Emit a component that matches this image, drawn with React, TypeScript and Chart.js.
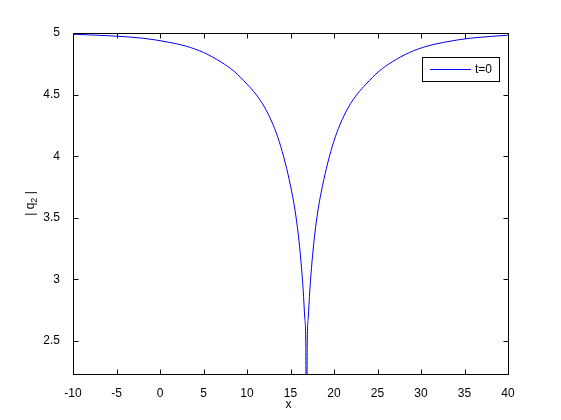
import { useEffect, useRef } from 'react';
import { Chart, registerables } from 'chart.js';

Chart.register(...registerables);

// Data
const xValues = [
  -10, -6, -2, 1, 3, 5, 7, 8.5, 10, 11, 12, 13, 13.7, 14.4, 15, 15.5, 15.9, 16.2, 16.45,
  16.65, 16.76, 16.84, 16.92, 17.03, 17.23, 17.48, 17.78, 18.18, 18.68, 19.28, 19.98, 20.68,
  21.68, 22.68, 23.68, 25.18, 26.68, 28.68, 30.68, 32.68, 35.68, 40,
];
const q2Values = [
  4.99, 4.978, 4.958, 4.925, 4.893, 4.842, 4.765, 4.69, 4.585, 4.505, 4.4, 4.255, 4.12,
  3.945, 3.76, 3.57, 3.36, 3.15, 2.92, 2.68, 2.45, 1.0, 2.45, 2.68, 2.92, 3.15, 3.36, 3.57,
  3.76, 3.945, 4.12, 4.255, 4.4, 4.505, 4.585, 4.69, 4.765, 4.842, 4.893, 4.925, 4.958,
  4.982,
];
const xTicks = [-10, -5, 0, 5, 10, 15, 20, 25, 30, 35, 40];
const yTicks = [2.5, 3, 3.5, 4, 4.5, 5];
const xMin = -10;
const xMax = 40;
const yMin = 2.232;
const yMax = 5;
const seriesLabel = 't=0';
const xTitle = 'x';
const yTitleMain = '| q';
const yTitleSub = '2';
const yTitleEnd = ' |';

const FONT = "'Liberation Sans', Arial, sans-serif";
const LINE_COLOR = '#0000ee';

const framePlugin = {
  id: 'matlabFrame',
  afterDraw(chart: any) {
    const { ctx, chartArea } = chart;
    const xs = chart.scales.x;
    const ys = chart.scales.y;
    const L = Math.round(chartArea.left) + 0.5;
    const R = Math.round(chartArea.right) + 0.5;
    const T = Math.round(chartArea.top) + 0.5;
    const B = Math.round(chartArea.bottom) + 0.5;
    ctx.save();
    ctx.strokeStyle = '#000';
    ctx.lineWidth = 1;
    ctx.strokeRect(L, T, R - L, B - T);
    const tl = 5;
    ctx.beginPath();
    for (const v of xTicks) {
      const px = Math.round(xs.getPixelForValue(v)) + 0.5;
      ctx.moveTo(px, B);
      ctx.lineTo(px, B - tl);
      ctx.moveTo(px, T);
      ctx.lineTo(px, T + tl);
    }
    for (const v of yTicks) {
      const py = Math.round(ys.getPixelForValue(v)) + 0.5;
      ctx.moveTo(L, py);
      ctx.lineTo(L + tl, py);
      ctx.moveTo(R, py);
      ctx.lineTo(R - tl, py);
    }
    ctx.stroke();

    // Legend box
    const lx0 = 422.5, ly0 = 57.5, lx1 = 499.5, ly1 = 81.5;
    ctx.fillStyle = '#fff';
    ctx.fillRect(lx0, ly0, lx1 - lx0, ly1 - ly0);
    ctx.strokeStyle = '#000';
    ctx.strokeRect(lx0, ly0, lx1 - lx0, ly1 - ly0);
    ctx.strokeStyle = LINE_COLOR;
    ctx.beginPath();
    ctx.moveTo(430, 69.5);
    ctx.lineTo(471, 69.5);
    ctx.stroke();
    ctx.fillStyle = '#000';
    ctx.font = `12px ${FONT}`;
    ctx.textAlign = 'left';
    ctx.textBaseline = 'middle';
    ctx.fillText(seriesLabel, 475, 70);

    // X title
    ctx.textAlign = 'center';
    ctx.textBaseline = 'alphabetic';
    ctx.fillText(xTitle, (chartArea.left + chartArea.right) / 2 - 2, 407.5);

    // Y title (rotated with subscript)
    ctx.translate(34, (chartArea.top + chartArea.bottom) / 2);
    ctx.rotate(-Math.PI / 2);
    ctx.font = `12px ${FONT}`;
    const w1 = ctx.measureText(yTitleMain).width;
    const w3 = ctx.measureText(yTitleEnd).width;
    ctx.font = `9px ${FONT}`;
    const w2 = ctx.measureText(yTitleSub).width;
    const total = w1 + w2 + w3;
    let x = -total / 2;
    ctx.textAlign = 'left';
    ctx.font = `12px ${FONT}`;
    ctx.fillText(yTitleMain, x, 0);
    x += w1;
    ctx.font = `9px ${FONT}`;
    ctx.fillText(yTitleSub, x, 3);
    x += w2;
    ctx.font = `12px ${FONT}`;
    ctx.fillText(yTitleEnd, x, 0);
    ctx.restore();
  },
};

export default function App() {
  const ref = useRef<HTMLCanvasElement | null>(null);
  useEffect(() => {
    document.body.style.margin = '0';
    document.body.style.background = '#fff';
    const canvas = ref.current;
    if (!canvas) return;
    const points = xValues.map((x, i) => ({ x, y: q2Values[i] }));
    const chart = new Chart(canvas, {
      type: 'line',
      data: {
        datasets: [
          {
            label: seriesLabel,
            data: points,
            borderColor: LINE_COLOR,
            borderWidth: 1,
            pointRadius: 0,
            fill: false,
            cubicInterpolationMode: 'monotone',
          },
        ],
      },
      options: {
        responsive: false,
        animation: false,
        layout: { padding: { left: 0, top: 33, right: 53, bottom: 0 } },
        plugins: { legend: { display: false }, tooltip: { enabled: false } },
        scales: {
          x: {
            type: 'linear',
            min: xMin,
            max: xMax,
            grid: { display: false },
            border: { display: false },
            afterBuildTicks: (s: any) => {
              s.ticks = xTicks.map((v) => ({ value: v }));
            },
            afterFit: (s: any) => {
              s.height = 46;
            },
            ticks: {
              autoSkip: false,
              maxRotation: 0,
              padding: 4,
              color: '#000',
              font: { family: FONT, size: 12 },
              callback: (v: any) => String(v),
            },
          },
          y: {
            type: 'linear',
            min: yMin,
            max: yMax,
            grid: { display: false },
            border: { display: false },
            afterBuildTicks: (s: any) => {
              s.ticks = yTicks.map((v) => ({ value: v }));
            },
            afterFit: (s: any) => {
              s.width = 73;
            },
            ticks: {
              autoSkip: false,
              padding: 5,
              color: '#000',
              font: { family: FONT, size: 12 },
              callback: (v: any) => String(v),
            },
          },
        },
      },
      plugins: [framePlugin],
    } as any);
    return () => chart.destroy();
  }, []);
  return <canvas ref={ref} width={561} height={420} style={{ display: 'block' }} />;
}
